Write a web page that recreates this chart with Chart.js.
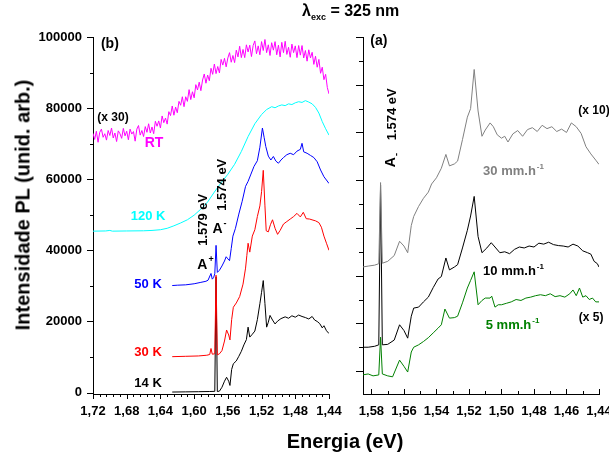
<!DOCTYPE html>
<html>
<head>
<meta charset="utf-8">
<script src="https://cdn.jsdelivr.net/npm/chart.js@4.4.1/dist/chart.umd.min.js"></script>
<style>
body { margin: 0; background: #fff; }
#wrap { position: relative; width: 609px; height: 459px; font-family: "Liberation Sans", Arial, sans-serif; font-weight: bold; color: #000; }
canvas { position: absolute; top: 0; }
#cb { left: 0; }
#ca { left: 345px; }
.t { position: absolute; white-space: nowrap; }
</style>
</head>
<body>
<div id="wrap">
<canvas id="cb" width="345" height="459" style="width:345px;height:459px"></canvas>
<canvas id="ca" width="264" height="459" style="width:264px;height:459px"></canvas>
<div class="t" style="left:302px;top:2px;font-size:16px">λ<sub style="font-size:9px">exc</sub> = 325 nm</div>
<div class="t" style="left:23px;top:205px;font-size:20px;transform:translate(-50%,-50%) rotate(-90deg)">Intensidade PL (unid. arb.)</div>
<div class="t" style="left:345px;top:441px;font-size:20px;transform:translate(-50%,-50%)">Energia (eV)</div>
</div>
<script>
// ---- panel (b): temperature series ----
const rtE = [1.720,1.718,1.716,1.714,1.712,1.710,1.708,1.706,1.704,1.702,1.700,1.698,1.696,1.694,1.692,1.690,1.688,1.686,1.684,1.682,
    1.680,1.678,1.676,1.674,1.672,1.670,1.668,1.666,1.664,1.662,1.660,1.658,1.656,1.654,1.652,1.650,1.648,1.646,1.644,1.642,
    1.640,1.638,1.636,1.634,1.632,1.630,1.628,1.626,1.624,1.622,1.620,1.618,1.616,1.614,1.612,1.610,1.608,1.606,1.604,1.602,
    1.600,1.598,1.596,1.594,1.592,1.590,1.588,1.586,1.584,1.582,1.580,1.578,1.576,1.574,1.572,1.570,1.568,1.566,1.564,1.562,
    1.560,1.558,1.556,1.554,1.552,1.550,1.548,1.546,1.544,1.542,1.540,1.538,1.536,1.534,1.532,1.530,1.528,1.526,1.524,1.522,
    1.520,1.518,1.516,1.514,1.512,1.510,1.508,1.506,1.504,1.502,1.500,1.498,1.496,1.494,1.492,1.490,1.488,1.486,1.484,1.482,
    1.480,1.478,1.476,1.474,1.472,1.470,1.468,1.466,1.464,1.462,1.460,1.458,1.456,1.454,1.452,1.450,1.448,1.446,1.444,1.442,1.440];
const rtI = [72900,71200,73500,70400,73200,74100,71800,72800,71000,73700,72300,74400,71600,73000,70600,73600,72800,71500,74300,72200,
    73500,71100,74100,72700,73400,70700,74100,75100,72400,73700,72000,74800,73200,75600,73000,74700,72800,76300,74900,76400,
    74400,77800,75900,77200,75500,79000,77900,80600,78000,80300,78700,81900,80800,83200,80400,83200,81900,85200,82400,84600,
    82900,86600,85100,87300,84900,87900,89600,87000,89300,87700,91200,89500,92400,89700,91700,89900,93700,92100,94000,91600,
    94100,95600,92900,94800,92800,96300,94400,97400,94200,96500,94200,97800,95800,97700,94500,97600,98900,95300,97500,95000,
    98700,96200,99300,95600,97800,94800,98400,96300,98700,95000,97700,94400,98500,95600,98800,95100,97100,94300,98000,95600,
    97500,94200,97600,94900,97600,94100,96200,93200,96400,94100,95700,92300,94600,91500,93700,89800,91500,88000,89500,85800,84000];

const k120E = [1.720,1.705,1.700,1.697,1.680,1.660,1.650,1.640,1.632,1.624,1.616,1.608,1.600,1.592,1.584,1.576,1.568,1.560,1.552,1.544,1.536,1.528,1.520,1.514,1.508,1.504,1.500,1.496,1.492,1.488,1.484,1.480,1.476,1.472,1.468,1.464,1.460,1.456,1.452,1.448,1.444,1.440];
const k120I = [45400,45450,45600,45400,45450,45500,45600,45800,46200,46900,47700,48600,49900,51600,53600,56400,59000,61400,64200,67800,72000,75600,78200,79600,80400,80100,80600,80900,80700,81200,81000,81500,81800,81600,82100,81700,81200,80200,78600,76200,74200,72400];

const k50E = [1.626,1.620,1.610,1.600,1.592,1.586,1.5835,1.580,1.5785,1.577,1.5755,1.574,1.5725,1.570,1.567,1.564,1.562,1.560,1.558,1.556,1.554,1.551,1.547,1.543,1.539,1.536,1.533,1.529,1.525,1.522,1.519,1.517,1.515,1.512,1.509,1.506,1.503,1.500,1.497,1.494,1.490,1.486,1.482,1.478,1.474,1.472,1.470,1.466,1.462,1.458,1.454,1.450,1.446,1.440];
const k50I = [30100,30200,30300,30600,31000,31300,31600,33500,31900,32300,33400,41400,33800,34400,35600,37000,38200,37600,37100,40500,44000,46200,50200,53800,58000,59400,61200,63600,65200,69000,74400,71800,69200,66500,65400,66400,65100,64500,65400,66100,66900,67300,66900,67900,68400,70100,67700,67300,66700,66100,64900,62600,60700,58800];

const k30E = [1.626,1.610,1.595,1.585,1.5815,1.580,1.5785,1.5755,1.574,1.5725,1.570,1.567,1.564,1.5615,1.559,1.5575,1.5555,1.5535,1.550,1.546,1.542,1.539,1.5375,1.536,1.534,1.531,1.528,1.525,1.522,1.520,1.518,1.516,1.5145,1.512,1.5095,1.507,1.504,1.501,1.498,1.494,1.490,1.486,1.482,1.478,1.474,1.4705,1.467,1.463,1.459,1.456,1.452,1.449,1.446,1.443,1.440];
const k30I = [10100,10200,10300,10500,10700,12400,10800,10900,33000,10600,10900,11800,14500,17600,16200,14800,20500,24000,25200,27000,30500,35000,38500,42000,39500,44000,45800,49500,52500,56500,62500,52500,45500,45200,47200,48600,46200,44500,45600,47400,48100,48800,49500,50400,49400,50700,48900,48800,48500,48300,47800,46500,44000,42000,40000];

const k14E = [1.626,1.610,1.595,1.5815,1.5755,1.574,1.5725,1.570,1.567,1.564,1.5615,1.559,1.5575,1.5555,1.5535,1.550,1.547,1.544,1.541,1.538,1.536,1.534,1.531,1.528,1.525,1.522,1.520,1.518,1.516,1.514,1.512,1.510,1.507,1.504,1.501,1.497,1.492,1.488,1.484,1.480,1.476,1.472,1.468,1.464,1.460,1.457,1.454,1.451,1.448,1.446,1.443,1.440];
const k14I = [150,200,250,300,350,32500,300,400,1500,3200,4300,3200,2000,6500,8100,8900,10200,11600,13400,14900,18400,15600,16400,17300,20500,25000,28200,31500,25000,18400,19800,21700,20400,19300,20100,20800,21300,20900,21600,21200,21800,21400,21100,20700,21400,20400,20000,19400,18200,18800,17400,16600];

// ---- panel (a): growth-rate series (arb. units) ----
const rE = [1.5856,1.582,1.578,1.5755,1.5744,1.5733,1.570,1.566,1.5627,1.560,1.5577,1.5555,1.554,1.551,1.548,1.545,1.543,1.540,1.537,1.5342,1.532,1.529,1.527,1.524,1.521,1.519,1.5168,1.5144,1.512,1.510,1.507,1.505,1.5026,1.500,1.498,1.496,1.493,1.490,1.487,1.484,1.481,1.478,1.475,1.472,1.469,1.466,1.463,1.460,1.457,1.454,1.451,1.448,1.445,1.442,1.440];
const r30I = [2.18,2.20,2.22,2.25,3.95,2.26,2.30,2.42,2.72,2.62,2.48,3.05,3.24,3.45,3.62,3.75,3.92,4.05,4.25,4.54,4.30,4.34,4.40,4.85,5.32,5.50,6.32,5.45,4.92,5.05,5.20,5.12,4.95,4.88,4.92,4.80,4.97,5.04,4.92,5.06,5.10,5.02,5.15,5.08,5.12,5.02,5.07,5.00,5.20,5.12,4.98,4.70,4.55,4.42,4.33];

const r10E = [1.5856,1.582,1.578,1.5755,1.5744,1.5733,1.570,1.566,1.5627,1.560,1.5577,1.5555,1.554,1.551,1.548,1.545,1.542,1.539,1.537,1.5342,1.532,1.529,1.527,1.524,1.521,1.519,1.5168,1.5144,1.512,1.509,1.5063,1.504,1.501,1.498,1.495,1.492,1.489,1.486,1.483,1.480,1.477,1.474,1.471,1.468,1.465,1.462,1.459,1.456,1.453,1.450,1.447,1.445,1.443,1.441,1.440];
const r10I = [0.50,0.50,0.52,0.55,3.90,0.55,0.56,0.65,0.97,0.85,0.69,1.15,1.32,1.34,1.45,1.55,1.75,1.93,1.98,2.37,2.12,2.18,2.23,2.58,2.95,3.25,3.66,2.82,2.48,2.58,2.69,2.60,2.48,2.50,2.46,2.55,2.60,2.58,2.62,2.60,2.68,2.66,2.70,2.65,2.63,2.62,2.60,2.66,2.62,2.52,2.48,2.45,2.30,2.25,2.18];

const r5E = [1.5856,1.582,1.579,1.5755,1.5744,1.5733,1.570,1.567,1.5627,1.560,1.5577,1.5555,1.554,1.551,1.548,1.545,1.542,1.539,1.537,1.5348,1.532,1.529,1.527,1.524,1.521,1.519,1.5168,1.5144,1.512,1.510,1.507,1.506,1.504,1.502,1.500,1.497,1.494,1.491,1.488,1.485,1.482,1.479,1.476,1.473,1.470,1.467,1.464,1.461,1.458,1.456,1.454,1.452,1.450,1.448,1.446,1.444,1.442,1.440];
const r5I = [-0.08,-0.06,-0.10,-0.08,0.71,-0.06,-0.10,-0.12,0.23,0.10,-0.02,0.40,0.50,0.55,0.62,0.70,0.80,0.90,0.97,1.30,1.11,1.12,1.15,1.43,1.74,1.90,2.08,1.39,1.48,1.53,1.53,1.57,1.34,1.39,1.39,1.42,1.45,1.50,1.48,1.53,1.55,1.58,1.60,1.58,1.62,1.56,1.58,1.55,1.62,1.70,1.58,1.74,1.55,1.58,1.50,1.53,1.45,1.45];

// ---- axes ----
const bTicksX = [1.72,1.68,1.64,1.60,1.56,1.52,1.48,1.44];
const bTicksY = [0,20000,40000,60000,80000,100000];
const bMinorY = [10000,30000,50000,70000,90000];
const aTicksX = [1.58,1.56,1.54,1.52,1.50,1.48,1.46,1.44];
const aMinorX = [1.57,1.55,1.53,1.51,1.49,1.47,1.45];
const aTicksY = [0,1,2,3,4,5,6,7];
const aMinorY = [0.5,1.5,2.5,3.5,4.5,5.5,6.5];
const bMinorX = [];
for (let v = 1.712; v > 1.441; v -= 0.008) bMinorX.push(+v.toFixed(3));

const FONT = '"Liberation Sans", Arial, sans-serif';
Chart.defaults.font.family = FONT;
Chart.defaults.color = '#000';

function pts(xs, ys) { return xs.map((x, i) => ({x: x, y: ys[i]})); }
function line(label, xs, ys, color) {
    return {label: label, data: pts(xs, ys), borderColor: color, borderWidth: 1, pointRadius: 0, fill: false, tension: 0};
}
const comma = v => Number(v).toFixed(2).replace('.', ',');

// short tick marks drawn on the library's scales
const tickMarks = {
    id: 'tickMarks',
    afterDraw(chart, args, opts) {
        const ctx = chart.ctx;
        ctx.save();
        ctx.strokeStyle = '#000';
        ctx.lineWidth = 1;
        (opts.sets || []).forEach(s => {
            const sc = chart.scales[s.axis];
            s.values.forEach(v => {
                const p = Math.round(sc.getPixelForValue(v)) + 0.5;
                ctx.beginPath();
                if (sc.isHorizontal()) {
                    ctx.moveTo(p, sc.top);
                    ctx.lineTo(p, sc.top + s.len);
                } else {
                    ctx.moveTo(sc.right, p);
                    ctx.lineTo(sc.right - s.len, p);
                }
                ctx.stroke();
            });
        });
        ctx.restore();
    }
};

// text labels placed at data coordinates
const notes = {
    id: 'notes',
    afterDraw(chart, args, opts) {
        const ctx = chart.ctx, sx = chart.scales.x, sy = chart.scales.y;
        (opts.items || []).forEach(it => {
            const size = it.size || 13;
            ctx.save();
            ctx.translate(sx.getPixelForValue(it.x), sy.getPixelForValue(it.y));
            if (it.rot) ctx.rotate(-Math.PI / 2);
            ctx.fillStyle = it.color || '#000';
            ctx.textBaseline = 'middle';
            ctx.textAlign = 'left';
            ctx.font = 'bold ' + size + 'px ' + FONT;
            const w = ctx.measureText(it.text).width;
            let sw = 0;
            const ss = Math.round(size * 0.65);
            if (it.sup) {
                ctx.font = 'bold ' + ss + 'px ' + FONT;
                sw = ctx.measureText(it.sup).width;
            }
            const x0 = -(w + sw) / 2;
            ctx.font = 'bold ' + size + 'px ' + FONT;
            ctx.fillText(it.text, x0, 0);
            if (it.sup) {
                ctx.font = 'bold ' + ss + 'px ' + FONT;
                ctx.fillText(it.sup, x0 + w + 1, it.supDy !== undefined ? it.supDy : -size * 0.4);
            }
            ctx.restore();
        });
    }
};

// fixed axis boxes, and no extra room for the end tick labels
const fixedW = w => (scale => { scale.width = w; scale.paddingTop = 0; scale.paddingBottom = 0; });
const fixedH = h => (scale => { scale.height = h; scale.paddingLeft = 0; scale.paddingRight = 0; });

new Chart(document.getElementById('cb'), {
    type: 'line',
    data: {
        datasets: [
            line('RT', rtE, rtI, '#ff00ff'),
            line('120 K', k120E, k120I, '#00ffff'),
            line('50 K', k50E, k50I, '#0000ff'),
            line('30 K', k30E, k30I, '#ff0000'),
            line('14 K', k14E, k14I, '#000000')
        ]
    },
    options: {
        responsive: false,
        animation: false,
        layout: {padding: {left: 0, right: 16, top: 37, bottom: 0}},
        plugins: {
            legend: {display: false},
            tooltip: {enabled: false},
            tickMarks: {sets: [
                {axis: 'x', values: bTicksX, len: 5},
                {axis: 'x', values: bMinorX, len: 3},
                {axis: 'y', values: bTicksY, len: 6},
                {axis: 'y', values: bMinorY, len: 3}
            ]},
            notes: {items: [
                {text: '(b)', x: 1.700, y: 97900, size: 14},
                {text: '(x 30)', x: 1.6963, y: 77330, size: 12},
                {text: 'RT', x: 1.6476, y: 70290, size: 14, color: '#ff00ff'},
                {text: '120 K', x: 1.6547, y: 49440, color: '#00ffff'},
                {text: '50 K', x: 1.6547, y: 30280, color: '#0000ff'},
                {text: '30 K', x: 1.6547, y: 11410, color: '#ff0000'},
                {text: '14 K', x: 1.6547, y: 2680},
                {text: '1.579 eV', x: 1.5895, y: 48590, rot: true},
                {text: 'A', sup: '+', x: 1.5871, y: 35920, size: 14},
                {text: '1.574 eV', x: 1.5670, y: 58450, rot: true},
                {text: 'A', sup: '-', x: 1.5705, y: 46060, size: 14}
            ]}
        },
        scales: {
            x: {
                type: 'linear', min: 1.44, max: 1.72, reverse: true,
                grid: {display: false, drawTicks: false},
                border: {display: true, color: '#000', width: 1},
                afterBuildTicks: s => { s.ticks = bTicksX.map(v => ({value: v})); },
                afterFit: fixedH(65),
                ticks: {autoSkip: false, maxRotation: 0, padding: 10, font: {size: 13, weight: 'bold'}, callback: comma}
            },
            y: {
                type: 'linear', min: -400, max: 100000,
                grid: {display: false, drawTicks: false},
                border: {display: true, color: '#000', width: 1},
                afterBuildTicks: s => { s.ticks = bTicksY.map(v => ({value: v})); },
                afterFit: fixedW(93),
                ticks: {autoSkip: false, padding: 11, font: {size: 13, weight: 'bold'}, callback: v => String(v)}
            }
        }
    },
    plugins: [tickMarks, notes]
});

new Chart(document.getElementById('ca'), {
    type: 'line',
    data: {
        datasets: [
            line('30 mm.h-1', rE, r30I, '#808080'),
            line('10 mm.h-1', r10E, r10I, '#000000'),
            line('5 mm.h-1', r5E, r5I, '#008000')
        ]
    },
    options: {
        responsive: false,
        animation: false,
        layout: {padding: {left: 0, right: 10, top: 37, bottom: 0}},
        plugins: {
            legend: {display: false},
            tooltip: {enabled: false},
            tickMarks: {sets: [
                {axis: 'x', values: aTicksX, len: -5},
                {axis: 'x', values: aMinorX, len: -3},
                {axis: 'y', values: aTicksY, len: 7},
                {axis: 'y', values: aMinorY, len: 4}
            ]},
            notes: {items: [
                {text: '(a)', x: 1.5754, y: 6.91, size: 14},
                {text: '1.574 eV', x: 1.5674, y: 5.38, rot: true},
                {text: 'A', sup: '-', x: 1.5680, y: 4.41, size: 14, rot: true, supDy: 6},
                {text: '(x 10)', x: 1.4431, y: 5.45, size: 12},
                {text: '30 mm.h', sup: '-1', x: 1.4929, y: 4.18, color: '#808080'},
                {text: '10 mm.h', sup: '-1', x: 1.4929, y: 2.08},
                {text: '(x 5)', x: 1.4449, y: 1.11, size: 12},
                {text: '5 mm.h', sup: '-1', x: 1.4935, y: 0.95, color: '#008000'}
            ]}
        },
        scales: {
            x: {
                type: 'linear', min: 1.44, max: 1.5852, reverse: true,
                grid: {display: false, drawTicks: false},
                border: {display: true, color: '#000', width: 1},
                afterBuildTicks: s => { s.ticks = aTicksX.map(v => ({value: v})); },
                afterFit: fixedH(65),
                ticks: {autoSkip: false, maxRotation: 0, padding: 10, font: {size: 13, weight: 'bold'}, callback: comma}
            },
            y: {
                type: 'linear', min: -0.48, max: 7,
                grid: {display: false, drawTicks: false},
                border: {display: true, color: '#000', width: 1},
                afterBuildTicks: s => { s.ticks = aTicksY.map(v => ({value: v})); },
                afterFit: fixedW(18),
                ticks: {display: false}
            }
        }
    },
    plugins: [tickMarks, notes]
});
</script>
</body>
</html>
